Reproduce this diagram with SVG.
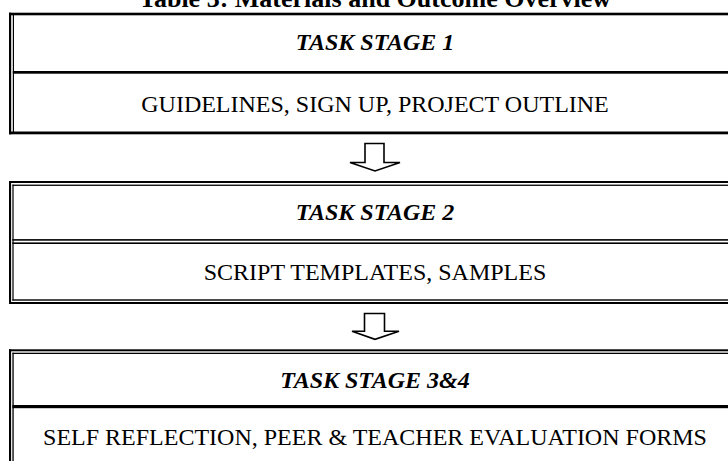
<svg xmlns="http://www.w3.org/2000/svg" width="728" height="461" viewBox="0 0 728 461">
<style>
.ln{fill:#000}
.t{font-family:"Liberation Serif","Times New Roman",serif;fill:#000;text-anchor:middle}
.title{font-size:26px;font-weight:bold}
.head{font-size:24px;font-weight:bold;font-style:italic}
.body{font-size:24px}
.arr{fill:#fff;stroke:#000;stroke-width:1.6;stroke-linejoin:miter}
</style>
<rect width="728" height="461" fill="#fff"/>
<text id="title" class="t title" x="375" y="7">Table 3: Materials and Outcome Overview</text>
<g id="stage1">
<rect class="ln" x="9" y="12.7" width="740" height="2.6"/>
<rect class="ln" x="9" y="12.7" width="2.2" height="121.6"/>
<rect class="ln" x="12.8" y="14" width="1.2" height="118"/>
<rect class="ln" x="12.8" y="71" width="740" height="2.7"/>
<rect class="ln" x="9" y="131.5" width="740" height="2.8"/>
<text class="t head" x="375" y="50">TASK STAGE 1</text>
<text class="t body" x="375" y="112">GUIDELINES, SIGN UP, PROJECT OUTLINE</text>
</g>
<g id="stage2">
<rect class="ln" x="9" y="181" width="740" height="2"/>
<rect class="ln" x="12.5" y="184.6" width="740" height="1.3"/>
<rect class="ln" x="9" y="181" width="2.1" height="123"/>
<rect class="ln" x="12.4" y="184.6" width="1.2" height="116"/>
<rect class="ln" x="12.4" y="239.1" width="740" height="1.6"/>
<rect class="ln" x="12.4" y="242.4" width="740" height="1.6"/>
<rect class="ln" x="12.4" y="299.3" width="740" height="1.4"/>
<rect class="ln" x="9" y="302" width="740" height="2"/>
<text class="t head" x="375" y="220">TASK STAGE 2</text>
<text class="t body" x="375" y="280">SCRIPT TEMPLATES, SAMPLES</text>
</g>
<g id="stage3">
<rect class="ln" x="9" y="349.3" width="740" height="2"/>
<rect class="ln" x="12.5" y="352.7" width="740" height="1.3"/>
<rect class="ln" x="9" y="349.3" width="2.1" height="120"/>
<rect class="ln" x="12.4" y="352.7" width="1.3" height="120"/>
<rect class="ln" x="12.4" y="405" width="740" height="3.2"/>
<text class="t head" x="375" y="388">TASK STAGE 3&amp;4</text>
<text class="t body" x="375" y="445">SELF REFLECTION, PEER &amp; TEACHER EVALUATION FORMS</text>
</g>
<g id="connectors">
<polygon class="arr" points="365,143.5 384,143.5 384,162.5 400,162.5 375,171 350,162.5 365,162.5"/>
<polygon class="arr" points="364.5,313.5 384.5,313.5 384.5,331.3 399,331.3 375,339.3 352,331.3 364.5,331.3"/>
</g>
</svg>
